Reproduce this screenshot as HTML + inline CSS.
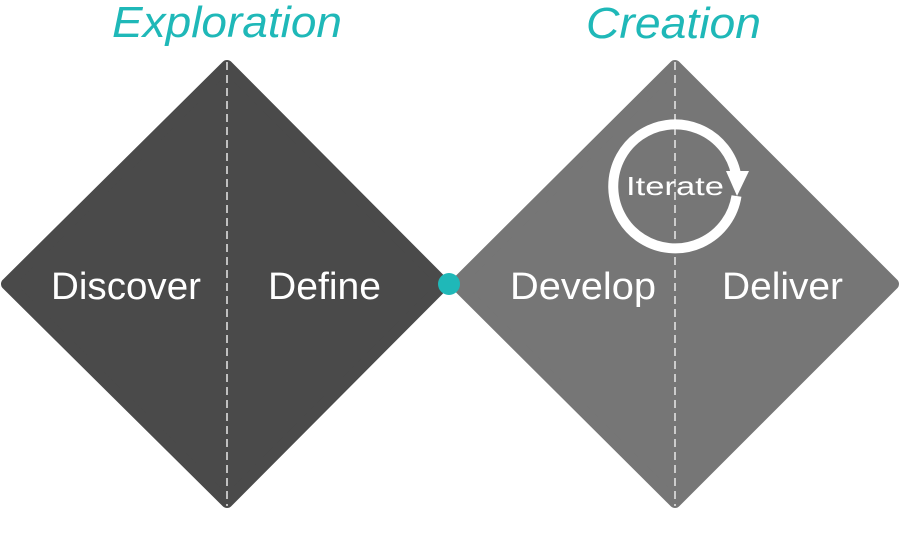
<!DOCTYPE html>
<html><head><meta charset="utf-8"><style>
html,body{margin:0;padding:0;background:#fff;}
svg{display:block;}
text{font-family:"Liberation Sans",sans-serif;}
</style></head><body>
<svg width="900" height="538" viewBox="0 0 900 538" xmlns="http://www.w3.org/2000/svg">
<polygon points="227,66 444,284 227,502 7,284" fill="#4a4a4a" stroke="#4a4a4a" stroke-width="12" stroke-linejoin="round"/>
<polygon points="675,66 893,284 675,502 456,284" fill="#767676" stroke="#767676" stroke-width="12" stroke-linejoin="round"/>
<line x1="227" y1="62" x2="227" y2="506" stroke="#e8e8e8" stroke-width="1.5" stroke-dasharray="8,5"/>
<line x1="675" y1="62" x2="675" y2="506" stroke="#e8e8e8" stroke-width="1.5" stroke-dasharray="8,5"/>
<circle cx="449" cy="284" r="11" fill="#1fb8b8"/>
<text x="112" y="37" font-size="44" font-style="italic" fill="#1fb8b8" textLength="230" lengthAdjust="spacingAndGlyphs">Exploration</text>
<text x="586" y="38" font-size="44" font-style="italic" fill="#1fb8b8" textLength="175" lengthAdjust="spacingAndGlyphs">Creation</text>
<text x="51" y="299" font-size="38" fill="#fff" textLength="150" lengthAdjust="spacingAndGlyphs">Discover</text>
<text x="268" y="299" font-size="38" fill="#fff" textLength="113" lengthAdjust="spacingAndGlyphs">Define</text>
<text x="510" y="299" font-size="38" fill="#fff" textLength="146" lengthAdjust="spacingAndGlyphs">Develop</text>
<text x="722" y="299" font-size="38" fill="#fff" textLength="121" lengthAdjust="spacingAndGlyphs">Deliver</text>
<path d="M 736.5 196 A 62 62 0 1 1 736 174" fill="none" stroke="#fff" stroke-width="10"/>
<polygon points="726,171 749,171 737,196" fill="#fff"/>
<text x="626" y="195" font-size="26" fill="#fff" textLength="98" lengthAdjust="spacingAndGlyphs">Iterate</text>
</svg>
</body></html>
